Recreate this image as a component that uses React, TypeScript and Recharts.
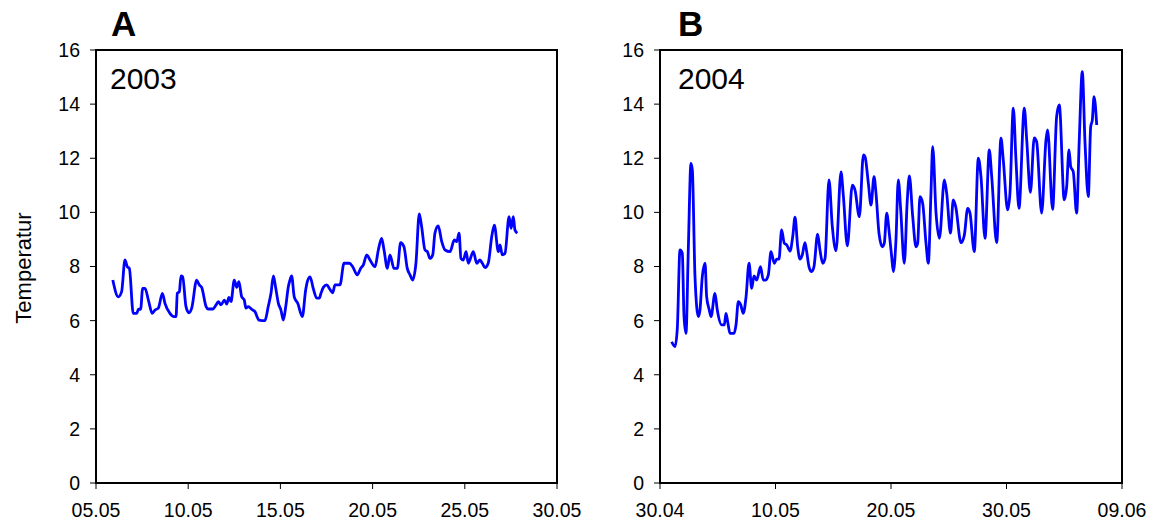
import { LineChart, Line, XAxis, YAxis, ReferenceArea } from 'recharts';

// panel A (2003): time in days of May, temperature
const timesA = [
  5.91, 6.21, 6.39, 6.57, 6.7, 6.81, 7.02, 7.21, 7.3, 7.42, 7.53, 7.66, 7.84, 8.05, 8.2, 8.38, 8.6, 8.74,
  9.01, 9.23, 9.34, 9.41, 9.52, 9.61, 9.7, 9.88, 10.04, 10.19, 10.46, 10.6, 10.73, 10.97, 11.09, 11.33,
  11.51, 11.63, 11.78, 11.96, 12.09, 12.21, 12.32, 12.5, 12.63, 12.75, 12.9, 13.04, 13.13, 13.26, 13.44,
  13.62, 13.84, 14.16, 14.34, 14.49, 14.62, 14.74, 14.89, 15.03, 15.16, 15.29, 15.43, 15.52, 15.61, 15.75,
  15.94, 16.19, 16.37, 16.46, 16.61, 16.78, 16.97, 17.11, 17.2, 17.33, 17.51, 17.69, 17.84, 17.96, 18.23,
  18.45, 18.74, 18.92, 19.17, 19.35, 19.5, 19.68, 19.86, 20.13, 20.31, 20.49, 20.62, 20.8, 20.94, 21.16,
  21.34, 21.52, 21.7, 21.88, 22.03, 22.17, 22.35, 22.53, 22.66, 22.84, 22.97, 23.11, 23.26, 23.38, 23.56,
  23.75, 23.93, 24.2, 24.43, 24.56, 24.69, 24.79, 24.92, 25.07, 25.19, 25.46, 25.65, 25.82, 25.95, 26.1,
  26.27, 26.46, 26.6, 26.82, 26.91, 27.03, 27.18, 27.4, 27.51, 27.63, 27.72, 27.85,
];
const tempsA = [
  7.5, 6.88, 7.07, 8.24, 7.99, 7.93, 6.27, 6.27, 6.42, 6.42, 7.19, 7.19, 6.76, 6.27, 6.39, 6.46, 7.01, 6.64,
  6.27, 6.15, 6.15, 7.01, 7.07, 7.65, 7.62, 6.52, 6.29, 6.46, 7.5, 7.32, 7.23, 6.52, 6.43, 6.43,
  6.58, 6.7, 6.58, 6.76, 6.61, 6.86, 6.7, 7.5, 7.23, 7.44, 6.88, 6.76, 6.46, 6.52, 6.42,
  6.33, 6.02, 6.0, 6.52, 7.01, 7.65, 7.23, 6.64, 6.39, 6.02, 6.52, 7.25, 7.5, 7.65, 6.88,
  6.64, 6.15, 7.13, 7.44, 7.62, 7.19, 6.83, 6.83, 7.01, 7.23, 7.32, 7.15, 7.03, 7.32, 7.32,
  8.12, 8.12, 7.99, 7.69, 7.93, 8.06, 8.43, 8.24, 7.99, 8.61, 9.04, 8.61, 7.93, 8.43, 7.93,
  7.93, 8.88, 8.73, 7.93, 7.69, 7.5, 8.12, 9.94, 9.47, 8.61, 8.55, 8.3, 8.43, 9.23, 9.5,
  8.92, 8.61, 8.55, 8.98, 8.92, 9.23, 8.3, 8.24, 8.55, 8.12, 8.55, 8.12, 8.24, 8.12, 7.96,
  8.12, 9.1, 9.53, 8.55, 8.8, 8.43, 8.49, 9.84, 9.41, 9.84, 9.35, 9.23,
];

// panel B (2004): days after 30.04, temperature
const timesB = [
  1.01, 1.3, 1.5, 1.73, 1.93, 2.08, 2.25, 2.45, 2.68, 2.8, 3.03, 3.32, 3.46, 3.66, 3.9, 4.04, 4.27, 4.42,
  4.76, 4.96, 5.34, 5.57, 5.71, 5.86, 6.06, 6.41, 6.58, 6.78, 6.99, 7.21, 7.45, 7.71, 7.94, 8.14, 8.37,
  8.7, 8.94, 9.15, 9.38, 9.61, 9.9, 10.1, 10.3, 10.53, 10.76, 10.97, 11.26, 11.49, 11.69, 11.92, 12.12,
  12.32, 12.55, 12.7, 12.9, 13.13, 13.33, 13.65, 13.85, 14.09, 14.29, 14.63, 14.92, 15.24, 15.67, 15.87,
  16.22, 16.65, 16.88, 17.26, 17.61, 17.75, 18.04, 18.27, 18.53, 18.7, 18.96, 19.25, 19.42, 19.63, 19.85,
  20.06, 20.2, 20.43, 20.63, 20.84, 21.15, 21.41, 21.59, 21.88, 22.16, 22.31, 22.51, 22.74, 23.03, 23.23,
  23.46, 23.61, 23.9, 24.19, 24.62, 24.82, 25.15, 25.39, 25.6, 26.06, 26.35, 26.64, 26.84, 27.21, 27.56,
  27.79, 28.14, 28.51, 28.72, 29.15, 29.52, 29.72, 30.1, 30.3, 30.59, 30.82, 31.08, 31.54, 31.75, 32.07,
  32.4, 32.61, 33.04, 33.42, 33.56, 33.99, 34.34, 34.57, 35.0, 35.21, 35.41, 35.56, 35.78, 36.07, 36.3,
  36.56, 36.8, 37.08, 37.29, 37.43, 37.58, 37.81,
];
const tempsB = [
  5.22, 5.04, 5.72, 8.61, 8.49, 6.15, 5.53, 8.61, 11.81, 11.57, 7.62, 6.15, 6.39, 7.62, 8.12, 6.88, 6.39, 6.15,
  7.01, 6.39, 5.84, 5.84, 6.27, 5.96, 5.53, 5.53, 5.84, 6.7, 6.58, 6.27, 6.88, 8.12, 7.19, 7.65, 7.5,
  7.99, 7.5, 7.5, 7.69, 8.55, 8.12, 8.27, 8.27, 9.35, 8.86, 8.8, 8.57, 9.1, 9.82, 8.73, 8.27,
  8.43, 8.88, 8.55, 7.99, 7.81, 7.99, 9.2, 8.61, 8.12, 8.3, 11.2, 9.47, 8.58, 11.5, 10.64,
  8.76, 11.01, 10.83, 9.84, 12.12, 12.06, 11.07, 10.27, 11.32, 10.71, 9.23, 8.73, 8.86, 9.97, 9.23,
  8.36, 7.81, 8.98, 11.2, 10.09, 8.12, 10.46, 11.35, 9.84, 8.73, 8.86, 10.58, 10.34, 8.86, 8.12,
  10.71, 12.43, 9.97, 9.04, 11.2, 10.71, 9.23, 10.46, 10.21, 8.88, 9.16, 10.15, 9.97, 8.55, 12.0,
  11.32, 9.04, 12.31, 11.32, 8.88, 12.74, 11.94, 10.09, 10.71, 13.85, 11.94, 10.15, 13.85, 12.68, 10.74,
  12.75, 12.61, 9.97, 12.68, 13.05, 10.11, 13.54, 13.97, 10.46, 10.95, 12.31, 11.69, 11.5, 9.97, 12.68,
  15.2, 12.55, 10.58, 13.17, 13.41, 14.28, 13.23,
];

const yTicks = [0, 2, 4, 6, 8, 10, 12, 14, 16];
const ticksA = [5, 10, 15, 20, 25, 30];
const tickLabelsA = ['05.05', '10.05', '15.05', '20.05', '25.05', '30.05'];
const ticksB = [0, 10, 20, 30, 40];
const tickLabelsB = ['30.04', '10.05', '20.05', '30.05', '09.06'];

const dataA = timesA.map((t, i) => ({ t, v: tempsA[i] }));
const dataB = timesB.map((t, i) => ({ t, v: tempsB[i] }));

const font = 'Arial, "Liberation Sans", sans-serif';
const tickStyle = { fill: '#000', fontSize: 19.5, fontFamily: font };

function Panel({ data, ticks, labels, domain, left, width, marginLeft, marginRight }: any) {
  return (
    <div style={{ position: 'absolute', left, top: 0 }}>
      <LineChart width={width} height={522} data={data} margin={{ top: 50, right: marginRight, bottom: 9, left: marginLeft }}>
        <XAxis
          dataKey="t"
          type="number"
          domain={domain}
          ticks={ticks}
          allowDataOverflow
          tickFormatter={(v: number) => labels[ticks.indexOf(v)]}
          tick={tickStyle}
          tickSize={6}
          tickMargin={14}
          height={30}
          axisLine={{ stroke: '#000', strokeWidth: 2 }}
          tickLine={{ stroke: '#000' }}
          interval={0}
        />
        <YAxis
          type="number"
          domain={[0, 16]}
          ticks={yTicks}
          tick={tickStyle}
          tickSize={6}
          tickMargin={10}
          width={40}
          axisLine={{ stroke: '#000', strokeWidth: 2 }}
          tickLine={{ stroke: '#000' }}
          interval={0}
        />
        <ReferenceArea x1={domain[0]} x2={domain[1]} y1={0} y2={16} fill="none" stroke="#000" strokeWidth={2} />
        <Line
          type="monotone"
          dataKey="v"
          stroke="#0000ff"
          strokeWidth={2.8}
          dot={false}
          isAnimationActive={false}
        />
      </LineChart>
    </div>
  );
}

export default function App() {
  const txt = (s: string, x: number, y: number, size: number, bold = false) => (
    <div
      style={{
        position: 'absolute',
        left: x,
        top: y,
        fontFamily: font,
        fontSize: size,
        fontWeight: bold ? 'bold' : 'normal',
        lineHeight: 1,
        color: '#000',
        whiteSpace: 'nowrap',
      }}
    >
      {s}
    </div>
  );
  return (
    <div style={{ position: 'absolute', left: 0, top: 0, width: 1155, height: 522, background: '#fff' }}>
      <Panel data={dataA} ticks={ticksA} labels={tickLabelsA} domain={[5, 30]} left={0} width={600} marginLeft={56} marginRight={43} />
      <Panel data={dataB} ticks={ticksB} labels={tickLabelsB} domain={[0, 40]} left={570} width={585} marginLeft={50} marginRight={33} />
      {txt('A', 111, 6, 35, true)}
      {txt('B', 678, 6, 35, true)}
      {txt('2003', 110, 64, 30)}
      {txt('2004', 678, 64, 30)}
      <div
        style={{
          position: 'absolute',
          left: 24,
          top: 268,
          transform: 'translate(-50%, -50%) rotate(-90deg)',
          fontFamily: font,
          fontSize: 22,
          whiteSpace: 'nowrap',
          color: '#000',
        }}
      >
        Temperatur
      </div>
    </div>
  );
}
